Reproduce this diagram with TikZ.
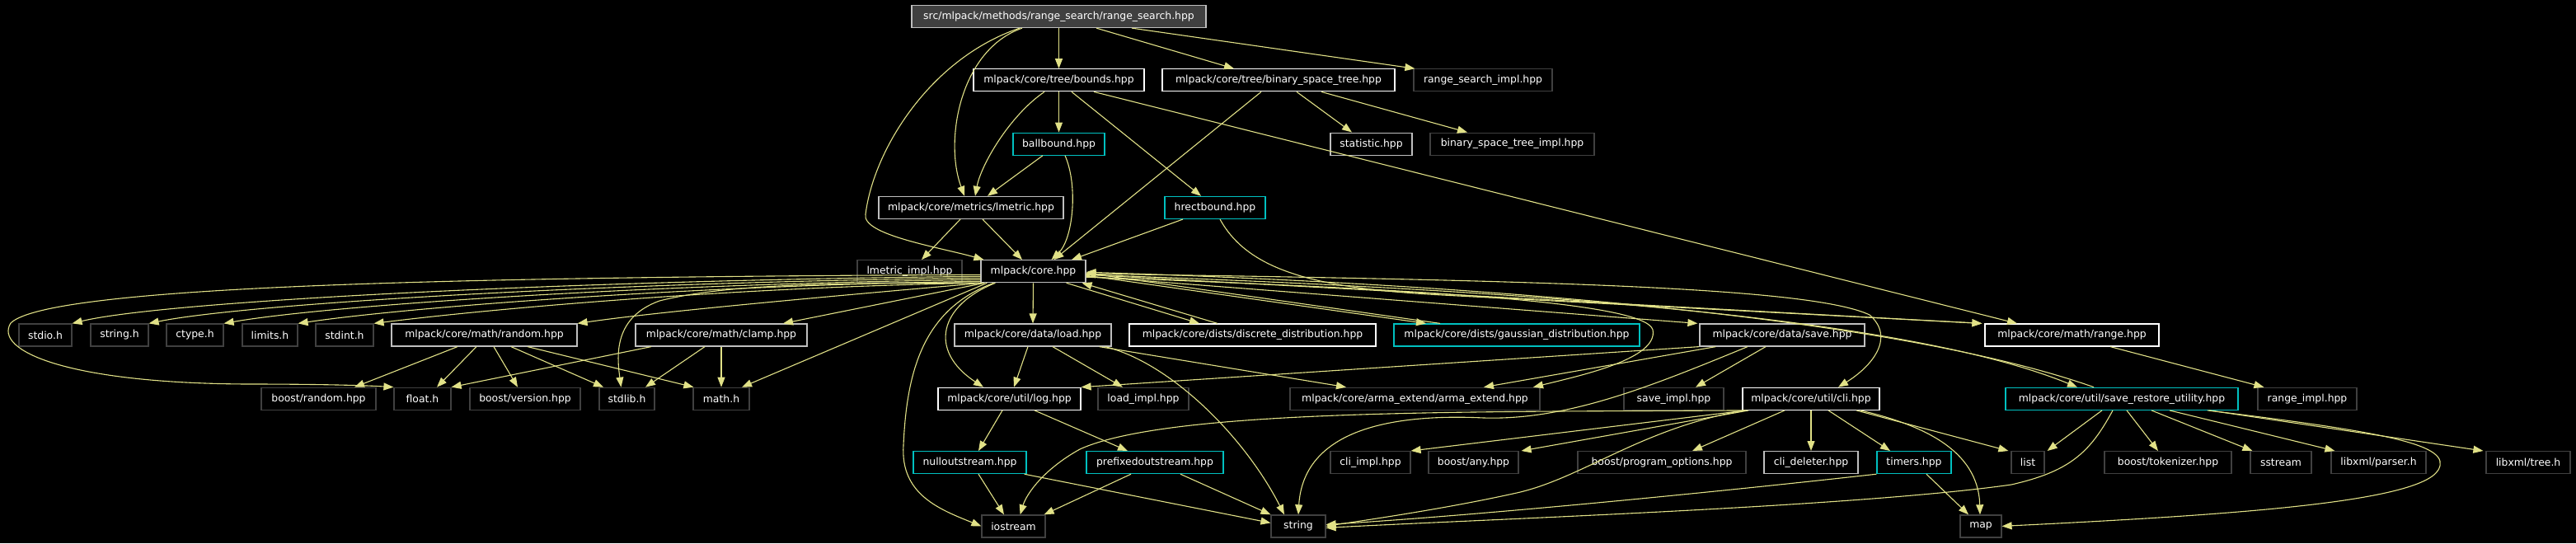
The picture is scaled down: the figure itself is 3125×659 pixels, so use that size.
\documentclass[tikz,border=0pt]{standalone}
\usepackage{fontspec}
\setmainfont{DejaVu Sans}
\usetikzlibrary{arrows.meta,calc}
\definecolor{ecol}{RGB}{225,225,135}
\definecolor{gbc}{RGB}{191,191,191}
\definecolor{dbc}{RGB}{64,64,64}
\definecolor{cbc}{RGB}{0,192,192}
\definecolor{rsfill}{RGB}{64,64,64}
\tikzset{
 nd/.style={draw, line width=1.2pt, inner sep=0pt, minimum height=27pt, text=white, font=\fontsize{12.4}{14}\selectfont, fill=black},
 wd/.style={minimum width=#1pt},
 wb/.style={nd, draw=white},
 gb/.style={nd, draw=gbc},
 db/.style={nd, draw=dbc},
 cb/.style={nd, draw=cbc},
 edg/.style={draw=ecol, line width=1.1pt, -{Triangle[length=12pt,width=9pt]}}
}
\begin{document}
\begin{tikzpicture}[x=1pt,y=-1pt]
\fill[black] (0,0) rectangle (3125,659);
\useasboundingbox (0,0) rectangle (3125,659);
% row 1-5
\node[gb, wd=357, fill=rsfill] (rs) at (1284.5,20) {src/mlpack/methods/range\_search/range\_search.hpp};
\node[wb, wd=207] (bounds) at (1284.5,97.3) {mlpack/core/tree/bounds.hpp};
\node[wb, wd=282] (bst) at (1551,97.3) {mlpack/core/tree/binary\_space\_tree.hpp};
\node[db, wd=168] (rsimpl) at (1799,97.3) {range\_search\_impl.hpp};
\node[cb, wd=111] (ball) at (1284.5,174.6) {ballbound.hpp};
\node[gb, wd=99] (stat) at (1663.5,174.6) {statistic.hpp};
\node[db, wd=199] (bstimpl) at (1834.5,174.6) {binary\_space\_tree\_impl.hpp};
\node[gb, wd=224] (lmetric) at (1178,251.9) {mlpack/core/metrics/lmetric.hpp};
\node[cb, wd=122] (hrect) at (1474,251.9) {hrectbound.hpp};
\node[db, wd=127] (lmimpl) at (1103.5,329.2) {lmetric\_impl.hpp};
\node[gb, wd=127] (core) at (1253.5,329.2) {mlpack/core.hpp};
% row 6
\node[db, wd=64] (stdio) at (55,406.5) {stdio.h};
\node[db, wd=70] (stringh) at (145,406.5) {string.h};
\node[db, wd=69] (ctype) at (236.5,406.5) {ctype.h};
\node[db, wd=67] (limits) at (327.5,406.5) {limits.h};
\node[db, wd=70] (stdint) at (418,406.5) {stdint.h};
\node[gb, wd=225] (random) at (587.5,406.5) {mlpack/core/math/random.hpp};
\node[gb, wd=208] (clamp) at (875,406.5) {mlpack/core/math/clamp.hpp};
\node[gb, wd=190] (load) at (1253,406.5) {mlpack/core/data/load.hpp};
\node[wb, wd=299] (discrete) at (1519.5,406.5) {mlpack/core/dists/discrete\_distribution.hpp};
\node[cb, wd=298] (gauss) at (1840,406.5) {mlpack/core/dists/gaussian\_distribution.hpp};
\node[gb, wd=200] (save) at (2162,406.5) {mlpack/core/data/save.hpp};
\node[wb, wd=211] (range) at (2513.5,406.5) {mlpack/core/math/range.hpp};
% row 7
\node[db, wd=139] (brandom) at (386.5,483.8) {boost/random.hpp};
\node[db, wd=69] (float) at (512.5,483.8) {float.h};
\node[db, wd=134] (bversion) at (637,483.8) {boost/version.hpp};
\node[db, wd=67] (stdlib) at (760.5,483.8) {stdlib.h};
\node[db, wd=68] (math) at (875,483.8) {math.h};
\node[wb, wd=173] (log) at (1224.5,483.8) {mlpack/core/util/log.hpp};
\node[db, wd=110] (loadimpl) at (1387,483.8) {load\_impl.hpp};
\node[db, wd=303] (arma) at (1716.5,483.8) {mlpack/core/arma\_extend/arma\_extend.hpp};
\node[db, wd=121] (saveimpl) at (2030.5,483.8) {save\_impl.hpp};
\node[wb, wd=166] (cli) at (2197,483.8) {mlpack/core/util/cli.hpp};
\node[cb, wd=282] (sru) at (2574,483.8) {mlpack/core/util/save\_restore\_utility.hpp};
\node[db, wd=120] (rangeimpl) at (2799,483.8) {range\_impl.hpp};
% row 8
\node[cb, wd=137] (null) at (1176.5,561.1) {nulloutstream.hpp};
\node[cb, wd=166] (prefixed) at (1401,561.1) {prefixedoutstream.hpp};
\node[db, wd=97] (cliimpl) at (1662.5,561.1) {cli\_impl.hpp};
\node[db, wd=109] (bany) at (1787.5,561.1) {boost/any.hpp};
\node[db, wd=204] (bpo) at (2016,561.1) {boost/program\_options.hpp};
\node[gb, wd=114] (clidel) at (2197,561.1) {cli\_deleter.hpp};
\node[cb, wd=90] (timers) at (2322,561.1) {timers.hpp};
\node[db, wd=40] (list) at (2460,561.1) {list};
\node[db, wd=154] (btok) at (2630,561.1) {boost/tokenizer.hpp};
\node[db, wd=74] (sstream) at (2767,561.1) {sstream};
\node[db, wd=115] (parser) at (2885.5,561.1) {libxml/parser.h};
\node[db, wd=102] (tree) at (3067,561.1) {libxml/tree.h};
% row 9
\node[db, wd=77] (iostream) at (1229.5,638.4) {iostream};
\node[db, wd=66] (string) at (1575,638.4) {string};
\node[db, wd=50] (map) at (2403,638.4) {map};
% ---- edges
% range_search
\draw[edg] (rs.south) -- (bounds.north);
\draw[edg] ($(rs.south)+(45.5,0)$) -- ($(bst.north)+(-54,0)$);
\draw[edg] ($(rs.south)+(88.5,0)$) -- ($(rsimpl.north west)+(2,0)$);
\draw[edg] ($(rs.south)+(-44.5,0)$) .. controls (1165,60) and (1145,170) .. ($(lmetric.north)+(-8,0)$);
\draw[edg] ($(rs.south)+(-47.5,0)$) .. controls (1130,70) and (1060,180) .. (1050,260) .. controls (1045,285) and (1140,300) .. ($(core.north west)+(4,0)$);
% bounds
\draw[edg] (bounds.south) -- (ball.north);
\draw[edg] ($(bounds.south)+(-17.5,0)$) .. controls (1225,140) and (1190,200) .. ($(lmetric.north)+(5,0)$);
\draw[edg] ($(bounds.south)+(15.5,0)$) -- ($(hrect.north)+(-17,0)$);
\draw[edg] ($(bounds.south)+(42.5,0)$) -- ($(range.north)+(-66.5,0)$);
% ballbound
\draw[edg] ($(ball.south)+(-19.5,0)$) -- ($(lmetric.north)+(20,0)$);
\draw[edg] ($(ball.south)+(7.5,0)$) .. controls (1308,225) and (1302,290) .. ($(core.north)+(22,0)$);
% binary space tree
\draw[edg] ($(bst.south)+(-21,0)$) -- ($(core.north)+(25,0)$);
\draw[edg] ($(bst.south)+(22,0)$) -- ($(stat.north)+(-23.5,0)$);
\draw[edg] ($(bst.south)+(52,0)$) -- ($(bstimpl.north)+(-54.5,0)$);
% hrectbound
\draw[edg] ($(hrect.south)+(-39,0)$) -- ($(core.north)+(46.5,0)$);
\draw[edg] ($(hrect.south)+(6,0)$) .. controls (1515,330) and (1600,350) .. (1750,358) -- ($(range.north west)+(-3,0)$);
% lmetric
\draw[edg] ($(lmetric.south)+(-13,0)$) -- ($(lmimpl.north)+(14.5,0)$);
\draw[edg] ($(lmetric.south)+(14,0)$) -- ($(core.north)+(-13.5,0)$);
% core, to the left
\draw[edg] ($(core.south west)+(0,-10)$) .. controls (600,336) and (60,345) .. (13,392) .. controls (-8,425) and (80,465) .. (300,466) .. controls (400,466) and (450,468) .. (float.north west);
\draw[edg] ($(core.south west)+(0,-8)$) .. controls (700,340) and (200,365) .. (stdio.north east);
\draw[edg] ($(core.south west)+(0,-6)$) .. controls (750,342) and (300,368) .. (stringh.north east);
\draw[edg] ($(core.south west)+(0,-4)$) .. controls (800,344) and (400,370) .. (ctype.north east);
\draw[edg] ($(core.south west)+(0,-2)$) .. controls (850,346) and (500,372) .. (limits.north east);
\draw[edg] ($(core.south west)+(1,0)$) .. controls (900,348) and (600,374) .. (stdint.north east);
\draw[edg] ($(core.south west)+(3,0)$) .. controls (1000,360) and (800,378) .. (random.north east);
\draw[edg] ($(core.south west)+(3,0)$) .. controls (1000,343) and (880,345) .. (800,365) .. controls (745,385) and (748,430) .. ($(stdlib.north)+(-7,0)$);
\draw[edg] ($(core.south west)+(5,0)$) -- ($(clamp.north)+(75,0)$);
\draw[edg] ($(core.south west)+(8,0)$) -- ($(math.north)+(25,0)$);
% core, downward
\draw[edg] (core.south) -- (load.north);
\draw[edg] ($(core.south)+(-46,0)$) .. controls (1140,370) and (1125,425) .. ($(log.north)+(-31.5,0)$);
\draw[edg] ($(core.south)+(-48,0)$) .. controls (1120,375) and (1100,450) .. (1096,540) .. controls (1092,600) and (1140,618) .. (iostream.west);
% core, to the right
\draw[edg] ($(core.south east)+(-24,0)$) -- ($(discrete.north)+(-64.5,0)$);
\draw[edg] ($(discrete.north)+(-42.5,0)$) -- ($(core.south east)+(-5,0)$);
\draw[edg] ($(core.east)+(0,5)$) -- ($(gauss.north)+(-110,0)$);
\draw[edg] ($(gauss.north)+(-93,0)$) -- ($(core.east)+(0,2)$);
\draw[edg] ($(core.east)+(0,6)$) -- ($(save.north west)+(-2,0)$);
\draw[edg] ($(core.east)+(0,4)$) -- ($(range.north west)+(-3,0)$);
\draw[edg] ($(core.east)+(0,3)$) .. controls (1900,340) and (2200,350) .. (2268,382) .. controls (2300,410) and (2270,445) .. ($(cli.north)+(33,0)$);
\draw[edg] ($(core.east)+(0,4)$) .. controls (1800,350) and (2300,380) .. ($(sru.north)+(-54,0)$);
\draw[edg] ($(sru.north)+(-34,0)$) .. controls (2300,385) and (1800,345) .. ($(core.east)+(0,1)$);
\draw[edg] ($(core.east)+(0,7)$) .. controls (1700,350) and (1995,365) .. (2005,400) .. controls (2012,435) and (1920,455) .. ($(arma.north)+(143.5,0)$);
% random
\draw[edg] ($(random.south)+(-32.5,0)$) -- ($(brandom.north)+(43.5,0)$);
\draw[edg] ($(random.south)+(-9.5,0)$) -- ($(float.north)+(17.5,0)$);
\draw[edg] ($(random.south)+(11.5,0)$) -- ($(bversion.north)+(-9,0)$);
\draw[edg] ($(random.south)+(32.5,0)$) -- ($(stdlib.north)+(-28.5,0)$);
\draw[edg] ($(random.south)+(52.5,0)$) -- ($(math.north west)+(1,0)$);
% clamp
\draw[edg] ($(clamp.south)+(-85,0)$) -- (float.north east);
\draw[edg] ($(clamp.south)+(-20,0)$) -- ($(stdlib.north)+(22.5,0)$);
\draw[edg] (clamp.south) -- (math.north);
% load
\draw[edg] ($(load.south)+(-6,0)$) -- ($(log.north)+(5.5,0)$);
\draw[edg] ($(load.south)+(24,0)$) -- ($(loadimpl.north)+(-25,0)$);
\draw[edg] ($(load.south east)+(-15,0)$) -- ($(arma.north)+(-83.5,0)$);
\draw[edg] ($(load.south east)+(-8,0)$) .. controls (1420,440) and (1510,530) .. ($(string.north)+(-17,0)$);
% save
\draw[edg] (save.south west) -- (log.north east);
\draw[edg] ($(save.south west)+(20,0)$) -- ($(arma.north)+(83.5,0)$);
\draw[edg] ($(save.south)+(-20,0)$) -- ($(saveimpl.north)+(26.5,0)$);
\draw[edg] ($(save.south)+(-42,0)$) .. controls (2000,470) and (1900,510) .. (1800,507) .. controls (1650,500) and (1580,540) .. (string.north);
% range
\draw[edg] ($(range.south)+(46.5,0)$) -- ($(rangeimpl.north west)+(8,0)$);
% log
\draw[edg] ($(log.south)+(-8.5,0)$) -- ($(null.north)+(10.5,0)$);
\draw[edg] ($(log.south)+(30.5,0)$) -- ($(prefixed.north)+(-33,0)$);
% streams
\draw[edg] ($(null.south)+(10.5,0)$) -- ($(iostream.north)+(-11.5,0)$);
\draw[edg] ($(null.south east)+(-3,0)$) -- ($(string.west)+(0,-4)$);
\draw[edg] ($(prefixed.south)+(-29,0)$) -- ($(iostream.north east)+(-2,0)$);
\draw[edg] ($(prefixed.south)+(31,0)$) -- (string.north west);
% cli
\draw[edg] ($(cli.south west)+(5,0)$) .. controls (1800,500) and (1420,495) .. (1310,545) .. controls (1265,570) and (1245,600) .. ($(iostream.north east)+(-31,0)$);
\draw[edg] ($(cli.south west)+(5,0)$) -- (cliimpl.north east);
\draw[edg] ($(cli.south west)+(8,0)$) -- ($(bany.north east)+(3,0)$);
\draw[edg] ($(cli.south)+(-32,0)$) -- ($(bpo.north)+(37,0)$);
\draw[edg] (cli.south) -- (clidel.north);
\draw[edg] ($(cli.south)+(21,0)$) -- ($(timers.north)+(-29,0)$);
\draw[edg] ($(cli.south)+(55,0)$) -- ($(list.north west)+(-3,0)$);
\draw[edg] ($(cli.south)+(60,0)$) .. controls (2330,515) and (2400,545) .. ($(map.north)+(-1,0)$);
\draw[edg] ($(cli.south west)+(2,0)$) .. controls (1990,520) and (1920,580) .. (1840,598) .. controls (1750,618) and (1650,632) .. (string.east);
% timers
\draw[edg] ($(timers.south)+(15,0)$) -- ($(map.north)+(-15,0)$);
\draw[edg] (timers.south west) .. controls (2100,595) and (1800,625) .. ($(string.east)+(0,-2)$);
% save_restore_utility
\draw[edg] ($(sru.south)+(-24,0)$) -- ($(list.north east)+(3,0)$);
\draw[edg] ($(sru.south)+(-11,0)$) .. controls (2535,550) and (2510,572) .. (2440,588) .. controls (2250,615) and (1800,630) .. ($(string.east)+(0,2)$);
\draw[edg] ($(sru.south)+(6,0)$) -- ($(btok.north)+(-12,0)$);
\draw[edg] ($(sru.south)+(36,0)$) -- ($(sstream.north west)+(3,0)$);
\draw[edg] ($(sru.south)+(58,0)$) -- ($(parser.north west)+(5,0)$);
\draw[edg] ($(sru.south)+(106,0)$) -- ($(tree.north west)+(-3,0)$);
\draw[edg] ($(sru.south)+(104,0)$) .. controls (2900,525) and (2975,540) .. (2958,570) .. controls (2935,610) and (2700,625) .. (map.east);
\end{tikzpicture}
\end{document}
